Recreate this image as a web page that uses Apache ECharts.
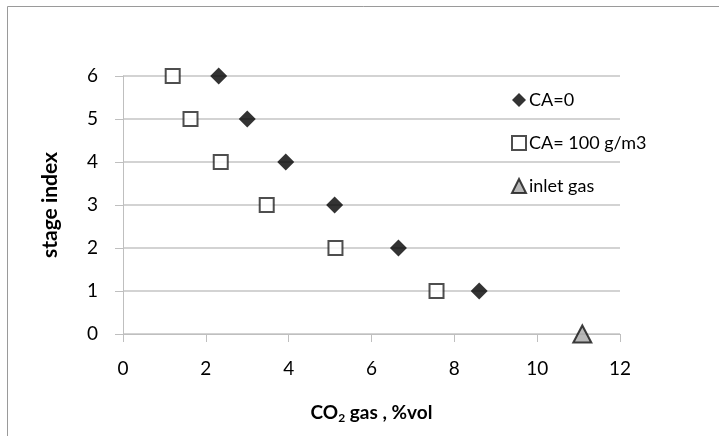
<!DOCTYPE html>
<html><head><meta charset="utf-8">
<script src="https://cdn.jsdelivr.net/npm/echarts@6/dist/echarts.min.js"></script>
<style>html,body{margin:0;padding:0;background:#fff}#c{width:719px;height:436px}</style>
</head><body><div id="c"></div>
<script>
var stages = [6, 5, 4, 3, 2, 1];
var ca0X = [2.31, 3.0, 3.93, 5.11, 6.65, 8.6];
var ca100X = [1.2, 1.63, 2.36, 3.47, 5.13, 7.57];
var inletX = [11.09];
var inletStage = [0];
var xTicks = [0, 2, 4, 6, 8, 10, 12];
var yTicks = [0, 1, 2, 3, 4, 5, 6];
var seriesNames = ['CA=0', 'CA= 100 g/m3', 'inlet gas'];

function pairs(xs, ys){ return xs.map(function(v,i){ return [v, ys[i]]; }); }

var font = 'Lato, "Open Sans", sans-serif';
var chart = echarts.init(document.getElementById('c'), null, {renderer:'canvas'});
chart.setOption({
  animation:false,
  backgroundColor:'#fff',
  graphic:[{type:'rect', shape:{x:7.5,y:6.5,width:800,height:800}, style:{fill:'none', stroke:'#9a9a9a', lineWidth:1}, silent:true}],
  grid:{left:123, right:99, top:76, bottom:102},
  legend:{
    orient:'vertical', left:506, top:86, itemGap:25, itemWidth:14, itemHeight:14,
    textStyle:{fontFamily:font, fontSize:18, color:'#000', padding:[0,0,0,-2]},
    data:[
      {name:seriesNames[0], icon:'diamond'},
      {name:seriesNames[1], icon:'rect'},
      {name:seriesNames[2], icon:'triangle'}
    ]
  },
  xAxis:{
    type:'value', min:xTicks[0], max:xTicks[xTicks.length-1], interval:2,
    name:'{a|CO}{s|2}{a| gas , %vol}', nameLocation:'middle', nameGap:68,
    nameTextStyle:{rich:{
      a:{fontFamily:font, fontSize:19, fontWeight:'bold', color:'#000'},
      s:{fontFamily:font, fontSize:12, fontWeight:'bold', color:'#000', verticalAlign:'bottom', padding:[10,0,0,0]}
    }},
    axisLine:{show:true, lineStyle:{color:'#bfbfbf', width:1}},
    axisTick:{show:true, inside:false, length:8, lineStyle:{color:'#bfbfbf'}},
    axisLabel:{fontFamily:font, fontSize:19, color:'#000', margin:25},
    splitLine:{show:false}
  },
  yAxis:{
    type:'value', min:yTicks[0], max:yTicks[yTicks.length-1], interval:1,
    name:'stage index', nameLocation:'middle', nameGap:62,
    nameTextStyle:{fontFamily:font, fontSize:21, fontWeight:'bold', color:'#000'},
    axisLine:{show:true, lineStyle:{color:'#bfbfbf', width:1}},
    axisTick:{show:true, inside:false, length:8, lineStyle:{color:'#bfbfbf'}},
    axisLabel:{fontFamily:font, fontSize:19, color:'#000', margin:25},
    splitLine:{show:true, lineStyle:{color:'#c4c4c4', width:1.5}}
  },
  series:[
    {name:seriesNames[0], type:'scatter', symbol:'diamond', symbolSize:17,
     itemStyle:{color:'#000', borderColor:'#000', borderWidth:0}, data:pairs(ca0X, stages)},
    {name:seriesNames[1], type:'scatter', symbol:'rect', symbolSize:14,
     itemStyle:{color:'#fff', borderColor:'#222', borderWidth:2}, data:pairs(ca100X, stages)},
    {name:seriesNames[2], type:'scatter', symbol:'triangle', symbolSize:[18,17],
     itemStyle:{color:'#a6a6a6', borderColor:'#111', borderWidth:2}, data:pairs(inletX, inletStage)}
  ]
});
</script></body></html>
